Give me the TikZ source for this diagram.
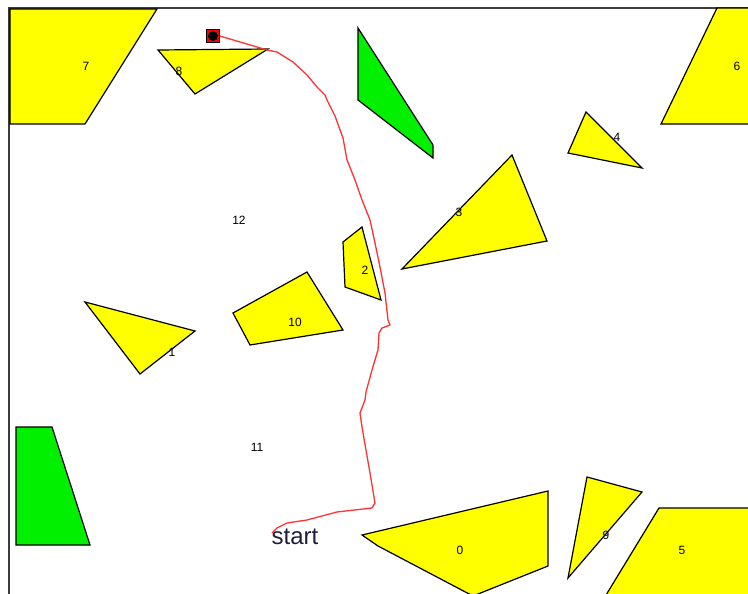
\documentclass[tikz,border=0pt]{standalone}
\usepackage{fontspec}
\setmainfont{Liberation Sans}
\definecolor{obsyellow}{RGB}{255,255,0}
\definecolor{obsgreen}{RGB}{0,240,0}
\definecolor{pathred}{RGB}{255,50,50}
\definecolor{framegray}{RGB}{60,60,60}
\tikzset{
  obst/.style={draw=black, line width=1.2pt, fill=obsyellow, line join=miter},
  gobst/.style={draw=black, line width=1.2pt, fill=obsgreen, line join=miter},
  lbl/.style={font=\fontsize{12}{12}\selectfont, text=black, inner sep=0pt},
  route/.style={draw=pathred, line width=1.3pt, line join=round},
}
\begin{document}
\begin{tikzpicture}[x=1pt,y=-1pt]
\useasboundingbox (0,0) rectangle (748,594);
\fill[white] (0,0) rectangle (748,594);
\begin{scope}
\clip (0,0) rectangle (748,594);
% frame
\draw[framegray, line width=1.8pt] (9,600) -- (9,8) -- (760,8);
% yellow obstacles
\draw[obst] (10,9) -- (157,9) -- (85,124) -- (10,124) -- cycle;
\draw[obst] (158,50) -- (268,49) -- (195,94) -- cycle;
\draw[obst] (717,8) -- (760,8) -- (760,124) -- (661,124) -- cycle;
\draw[obst] (586,112) -- (642,168) -- (568,153) -- cycle;
\draw[obst] (512,155) -- (547,241) -- (402,269) -- cycle;
\draw[obst] (362,227) -- (343,242) -- (345,287) -- (381,300) -- cycle;
\draw[obst] (85,302) -- (195,331) -- (140,374) -- cycle;
\draw[obst] (233,313) -- (307,272) -- (343,330) -- (250,345) -- cycle;
\draw[obst] (362,535) -- (548,491) -- (548,566) -- (473,596) -- (378,546) -- cycle;
\draw[obst] (587,477) -- (642,492) -- (568,578) -- cycle;
\draw[obst] (659,508) -- (760,508) -- (760,600) -- (603,600) -- cycle;
% green obstacles
\draw[gobst] (358,28) -- (433,145) -- (433,158) -- (358,100) -- cycle;
\draw[gobst] (16,427) -- (52,427) -- (90,545) -- (16,545) -- cycle;
\end{scope}
% labels
\node[lbl] (l0) at (460,550) {0};
\node[lbl] (l1) at (172,352) {1};
\node[lbl] (l2) at (365,270) {2};
\node[lbl] (l3) at (459,212) {3};
\node[lbl] (l4) at (617,137) {4};
\node[lbl] (l5) at (682,550) {5};
\node[lbl] (l6) at (737,66) {6};
\node[lbl] (l7) at (86,66) {7};
\node[lbl] (l8) at (179,71) {8};
\node[lbl] (l9) at (606,535) {9};
\node[lbl] (l10) at (295,322) {10};
\node[lbl] (l11) at (257,447) {11};
\node[lbl] (l12) at (239,220) {12};
\node[font=\fontsize{24}{24}\selectfont, text={rgb,255:red,30;green,30;blue,60}, inner sep=0pt] (start) at (295,537) {start};
% goal marker
\node[draw=black, fill=red, minimum size=13pt, inner sep=0pt, line width=0.6pt] (goal) at (213,36) {};
\fill[black] (goal.center) circle (5);
% route
\coordinate (routeend) at (272,533);
\draw[route] (goal.east) -- (267,50) -- (277,52) -- (293,62) -- (307,75) -- (317,87) -- (325,95) -- (327,100)
  -- (335,116) -- (343,138) -- (347,160) -- (355,180) -- (362,200) -- (370,220) -- (375,243) -- (380,267)
  -- (385,293) -- (388,320) -- (390,325) -- (382,328) -- (379,333) -- (378,350) -- (372,370) -- (366,392)
  -- (365,400) -- (360,413) -- (362,427) -- (370,473) -- (375,503) -- (372,508) -- (337,512) -- (307,520)
  -- (287,523) -- (277,528) -- (routeend);
\end{tikzpicture}
\end{document}
